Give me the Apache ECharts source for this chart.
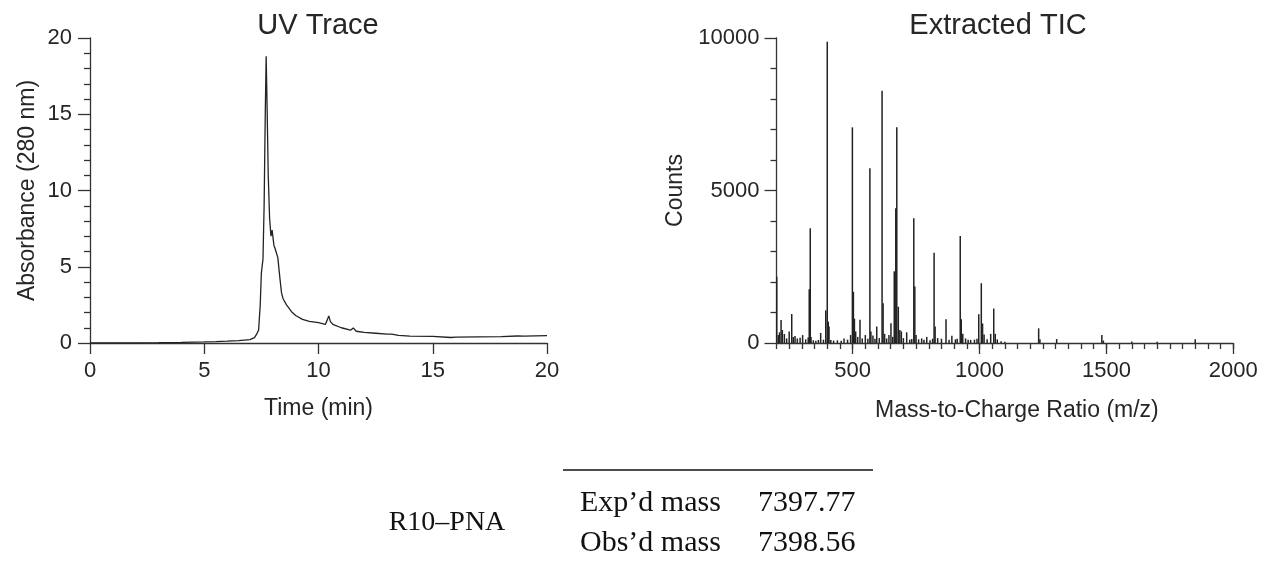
<!DOCTYPE html>
<html><head><meta charset="utf-8">
<script src="https://cdn.jsdelivr.net/npm/echarts@6/dist/echarts.min.js"></script>
<style>html,body{margin:0;padding:0;background:#fff}#c{width:1262px;height:565px}</style>
</head><body><div id="c"></div>
<script>
// ---------- UV trace (Time in min, Absorbance at 280 nm) ----------
const uvTime = [0,1,2,3,4,5,5.5,6,6.5,7.0,7.2,7.3,7.38,7.45,7.5,7.57,7.62,7.67,7.71,7.75,7.8,7.86,7.92,7.97,8.01,8.05,8.1,8.16,8.22,8.3,8.38,8.45,8.6,8.82,9.0,9.3,9.6,10.0,10.3,10.38,10.45,10.52,10.65,11.0,11.4,11.52,11.65,12.0,12.5,13.0,13.2,13.5,14,15,15.8,16,17,18,18.7,19,20];
const uvAbs  = [0,0,0.01,0.02,0.04,0.07,0.09,0.12,0.16,0.22,0.35,0.6,0.85,2.5,4.6,5.5,9,15,18.8,15.5,11,8.2,7.0,7.4,7.3,6.4,6.2,6.1,5.6,4.4,3.3,2.9,2.5,2.05,1.8,1.55,1.42,1.33,1.22,1.5,1.78,1.4,1.2,1.0,0.84,0.99,0.77,0.7,0.64,0.58,0.58,0.5,0.45,0.43,0.36,0.38,0.4,0.42,0.46,0.45,0.48];

// ---------- Extracted TIC (m/z, counts) ----------
const ticMz     = [201,207,212,218,223,231,240,250,260,266,273,282,293,303,315,325,329,333,336,345,355,365,374,385,394,400,404,407,414,425,440,455,466,480,492,499,503,507,512,520,529,538,550,560,568,572,580,588,595,605,616,620,626,634,643,651,658,664,670,674,680,686,692,700,713,725,733,741,745,750,760,772,781,792,805,815,821,825,835,850,868,880,891,905,912,924,928,934,945,955,965,980,990,997,1007,1012,1018,1030,1044,1056,1062,1070,1085,1100,1233,1238,1304,1482,1488,1600,1700,1850];
const ticCounts = [2175,260,350,754,426,295,150,380,950,200,230,150,170,260,120,180,1760,3760,200,90,70,100,330,110,1070,9880,700,540,100,80,90,70,150,110,260,7070,1680,800,380,200,760,150,260,140,5730,380,250,140,540,160,8270,1300,300,150,260,650,200,2350,4420,7070,1190,430,380,160,350,110,130,4090,1850,260,120,150,110,200,90,140,2960,540,160,140,780,110,240,120,140,3510,780,300,150,110,100,110,140,940,1960,640,280,120,300,1130,300,120,60,40,480,120,130,260,80,50,40,120];

// ---------- axis ticks / labels ----------
const ticXLabels = [500,1000,1500,2000];
const ticXTicksHundreds = [200,300,400,500,600,700,800,900,1000,1100,1200,1300,1400,1500,1600,1700,1800,1900,2000];
const ticXTicksFifties  = [250,350,450,550,650,750,850,950,1050,1150,1250,1350,1450,1550,1650,1750,1850,1950];

// ---------- table ----------
const sampleName = 'R10–PNA';
const tableRows = [['Exp’d mass','7397.77'],['Obs’d mass','7398.56']];

const INK = '#262626';
const SANS = '"Liberation Sans", Arial, sans-serif';
const SERIF = '"Liberation Serif", "Times New Roman", serif';
const axisLine = {show:true, lineStyle:{color:'#333', width:1.3}};
const tickStyle = {color:'#333', width:1.3};
const plain = v => String(v);
const lblStyle = {color:INK, fontSize:22, fontFamily:SANS, formatter:plain};
const nameStyle = {color:INK, fontSize:23, fontFamily:SANS};

const ticX = extra => Object.assign({gridIndex:1, type:'value', min:200, max:2000, position:'bottom', offset:0,
  axisLine:{show:false}, splitLine:{show:false}, axisLabel:{show:false}}, extra);

const chart = echarts.init(document.getElementById('c'), null, {renderer:'canvas'});
chart.setOption({
  animation:false,
  backgroundColor:'#fff',
  grid:[
    {left:90, right:715, top:38, bottom:222},
    {left:776.5, right:28.7, top:38, bottom:222}
  ],
  xAxis:[
    {gridIndex:0, type:'value', min:0, max:20, interval:5,
     axisLine, axisTick:{length:11, lineStyle:tickStyle}, splitLine:{show:false},
     axisLabel:{...lblStyle, margin:17},
     name:'Time (min)', nameLocation:'middle', nameGap:54, nameTextStyle:nameStyle},
    ticX({axisLine, axisTick:{length:6, lineStyle:tickStyle, customValues:ticXTicksHundreds},
     name:'Mass-to-Charge Ratio (m/z)', nameLocation:'middle', nameGap:56,
     nameTextStyle:{...nameStyle, padding:[0,0,0,24]}}),
    ticX({axisTick:{length:6, lineStyle:tickStyle, customValues:ticXTicksFifties}}),
    ticX({axisTick:{length:11, lineStyle:tickStyle, customValues:ticXLabels},
     axisLabel:{...lblStyle, margin:17, customValues:ticXLabels}})
  ],
  yAxis:[
    {gridIndex:0, type:'value', min:0, max:20, interval:5,
     axisLine, axisTick:{length:12, lineStyle:tickStyle},
     minorTick:{show:true, splitNumber:5, length:6, lineStyle:tickStyle},
     splitLine:{show:false}, minorSplitLine:{show:false},
     axisLabel:{...lblStyle, margin:18},
     name:'Absorbance (280 nm)', nameLocation:'middle', nameGap:51, nameTextStyle:nameStyle},
    {gridIndex:1, type:'value', min:0, max:10000, interval:5000,
     axisLine, axisTick:{length:12, lineStyle:tickStyle},
     minorTick:{show:true, splitNumber:5, length:6, lineStyle:tickStyle},
     splitLine:{show:false}, minorSplitLine:{show:false},
     axisLabel:{...lblStyle, margin:17},
     name:'Counts', nameLocation:'middle', nameGap:89, nameTextStyle:nameStyle}
  ],
  series:[
    {type:'line', xAxisIndex:0, yAxisIndex:0, showSymbol:false, symbol:'none',
     lineStyle:{color:'#222', width:1.3}, data:uvTime.map((t,i)=>[t, uvAbs[i]])},
    {type:'bar', xAxisIndex:1, yAxisIndex:1, barWidth:1.5,
     itemStyle:{color:'#222'}, data:ticMz.map((m,i)=>[m, ticCounts[i]])}
  ],
  graphic:[
    {type:'text', x:318, y:26, style:{text:'UV Trace', font:'29px '+SANS, fill:INK, textAlign:'center', textVerticalAlign:'middle', align:'center', verticalAlign:'middle'}},
    {type:'text', x:998, y:26, style:{text:'Extracted TIC', font:'29px '+SANS, fill:INK, textAlign:'center', textVerticalAlign:'middle', align:'center', verticalAlign:'middle'}},
    {type:'line', shape:{x1:563, y1:470, x2:873, y2:470}, style:{stroke:'#111', lineWidth:1.6}},
    {type:'text', x:447, y:523, style:{text:sampleName, font:'28px '+SERIF, fill:'#111', textAlign:'center', textVerticalAlign:'middle', align:'center', verticalAlign:'middle'}},
    {type:'text', x:580, y:503, style:{text:tableRows[0][0], font:'30px '+SERIF, fill:'#111', textAlign:'left', textVerticalAlign:'middle', align:'left', verticalAlign:'middle'}},
    {type:'text', x:758, y:503, style:{text:tableRows[0][1], font:'30px '+SERIF, fill:'#111', textAlign:'left', textVerticalAlign:'middle', align:'left', verticalAlign:'middle'}},
    {type:'text', x:580, y:543, style:{text:tableRows[1][0], font:'30px '+SERIF, fill:'#111', textAlign:'left', textVerticalAlign:'middle', align:'left', verticalAlign:'middle'}},
    {type:'text', x:758, y:543, style:{text:tableRows[1][1], font:'30px '+SERIF, fill:'#111', textAlign:'left', textVerticalAlign:'middle', align:'left', verticalAlign:'middle'}}
  ]
});
</script></body></html>
